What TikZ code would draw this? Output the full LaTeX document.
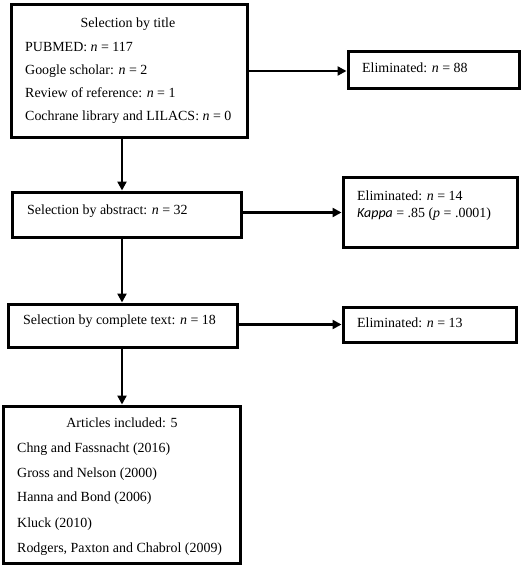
\documentclass[tikz,border=0pt]{standalone}
\usepackage{fontspec}
\setmainfont{Liberation Serif}
\newfontfamily\carl{Carlito}
\usetikzlibrary{arrows.meta}
\begin{document}
\begin{tikzpicture}[x=1bp,y=-1bp,
  box/.style={draw=black,line width=3bp,fill=white,inner sep=0pt},
  txt/.style={inner sep=0pt,anchor=base west,font=\fontsize{14}{16}\selectfont},
  ttl/.style={inner sep=0pt,anchor=base,font=\fontsize{14}{16}\selectfont},
  arr/.style={line width=2.4bp,-{Triangle[length=9bp,width=9bp]}}]
\useasboundingbox (0,0) rectangle (524,574);
% boxes
\node[box,minimum width=235bp,minimum height=132bp] (b1) at (129.5,71) {};
\node[box,minimum width=171bp,minimum height=37bp] (e1) at (433.5,70.5) {};
\node[box,minimum width=228bp,minimum height=45bp] (b2) at (127,214.5) {};
\node[box,minimum width=174bp,minimum height=69bp] (e2) at (430,212.5) {};
\node[box,minimum width=228bp,minimum height=43bp] (b3) at (123,325.5) {};
\node[box,minimum width=173bp,minimum height=35bp] (e3) at (429.5,324.5) {};
\node[box,minimum width=236bp,minimum height=157bp] (b4) at (122,484.5) {};
% texts
\node[ttl] (t10) at (128,28) {Selection by title};
\node[txt] (t11) at (25,51.5) {PUBMED: \textit{n} = 117};
\node[txt] (t12) at (25,75) {Google scholar: \textit{n} = 2};
\node[txt] (t13) at (25,98) {Review of reference: \textit{n} = 1};
\node[txt] (t14) at (25,121) {Cochrane library and LILACS: \textit{n} = 0};
\node[txt] (te1) at (362,73) {Eliminated: \textit{n} = 88};
\node[txt] (t2) at (27,214) {Selection by abstract: \textit{n} = 32};
\node[txt] (te21) at (357,200) {Eliminated: \textit{n} = 14};
\node[txt] (te22) at (357,217) {{\carl\itshape Kappa} = .85 (\textit{p} = .0001)};
\node[txt] (t3) at (23,324) {Selection by complete text: \textit{n} = 18};
\node[txt] (te3) at (357,327) {Eliminated: \textit{n} = 13};
\node[ttl] (t40) at (122,427) {Articles included: 5};
\node[txt] (t41) at (17,452) {Chng and Fassnacht (2016)};
\node[txt] (t42) at (17,477) {Gross and Nelson (2000)};
\node[txt] (t43) at (17,501) {Hanna and Bond (2006)};
\node[txt] (t44) at (17,527) {Kluck (2010)};
\node[txt] (t45) at (17,552) {Rodgers, Paxton and Chabrol (2009)};
% connectors
\coordinate (v) at (122,0);
\draw[arr] (b1.south -| v) -- (b2.north -| v);
\draw[arr] (b2.south -| v) -- (b3.north -| v);
\draw[arr] (b3.south -| v) -- (b4.north -| v);
\draw[arr] (b1.east) -- (b1.east -| e1.west);
\draw[arr] (e2.west -| b2.east) -- (e2.west);
\draw[arr] (e3.west -| b3.east) -- (e3.west);
\end{tikzpicture}
\end{document}
